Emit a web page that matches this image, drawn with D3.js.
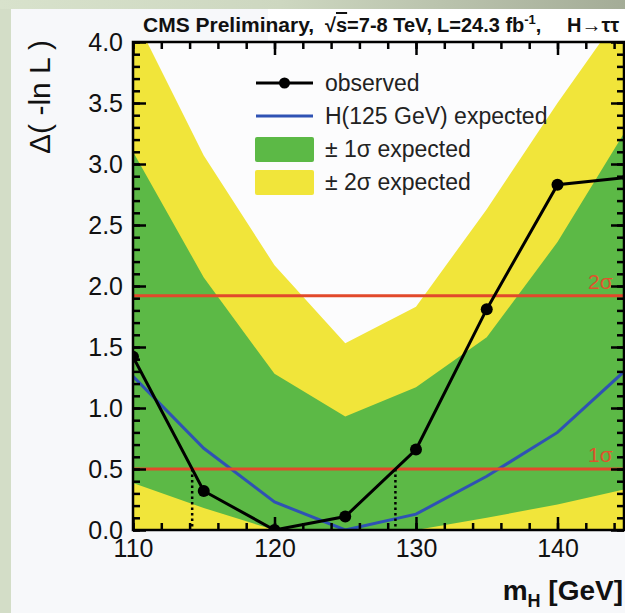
<!DOCTYPE html>
<html><head><meta charset="utf-8">
<script src="https://cdn.jsdelivr.net/npm/d3@7"></script>
<style>
html,body{margin:0;padding:0;background:#f7f8fa;}
svg{display:block;font-family:"Liberation Sans",Arial,Helvetica,sans-serif;}
</style></head><body>
<svg id="chart" width="625" height="613"></svg>
<script>
// Higgs mass scan, H -> tau tau: Δ(-ln L) versus m_H
const masses    = [110, 115, 120, 125, 130, 135, 140, 145];
const observed  = [1.42, 0.32, 0.00, 0.11, 0.66, 1.81, 2.83, 2.89];
const expected  = [1.26, 0.67, 0.23, 0.00, 0.13, 0.44, 0.80, 1.33];
const band1Lo   = [0.385, 0.18, 0.00, 0.00, 0.00, 0.10, 0.21, 0.34];
const band1Hi   = [3.10, 2.07, 1.28, 0.93, 1.17, 1.58, 2.36, 3.31];
const band2Lo   = [0, 0, 0, 0, 0, 0, 0, 0];
const band2Hi   = [4.23, 3.07, 2.17, 1.53, 1.83, 2.63, 3.50, 4.32];
const xMajorTicks = [110, 120, 130, 140];
const yMajorTicks = [0, 0.5, 1.0, 1.5, 2.0, 2.5, 3.0, 3.5, 4.0];
const sigmaLines = [{label: "1σ", value: 0.5}, {label: "2σ", value: 1.92}];
const legendItems = ["observed", "H(125 GeV) expected", "± 1σ expected", "± 2σ expected"];

const W = 625, H = 613;
const frame = {left: 133, right: 624, top: 42, bottom: 530};
const col = {
  green: "#5cb946", yellow: "#f1e53a", blue: "#2f52b4",
  red: "#e2492b", redText: "#e0522c", black: "#000"
};

const svg = d3.select("#chart");
const defs = svg.append("defs");

// page backdrop
const gTop = defs.append("linearGradient").attr("id", "topStrip").attr("x1", 0).attr("x2", 1).attr("y1", 0).attr("y2", 0);
gTop.append("stop").attr("offset", "0").attr("stop-color", "#d8e2cc");
gTop.append("stop").attr("offset", "0.45").attr("stop-color", "#cdd7c0");
gTop.append("stop").attr("offset", "1").attr("stop-color", "#a4ac97");
svg.append("rect").attr("width", W).attr("height", H).attr("fill", "#d3ddc7");
svg.append("rect").attr("width", W).attr("height", 9).attr("fill", "url(#topStrip)");
svg.append("rect").attr("x", 11).attr("y", 9).attr("width", W - 11).attr("height", H - 9).attr("fill", "#f7f8fa");
svg.append("rect").attr("x", 268).attr("y", 9).attr("width", W - 268).attr("height", frame.top + 20 - 9).attr("fill", "#ffffff");
svg.append("rect").attr("x", frame.left).attr("y", frame.top).attr("width", frame.right - frame.left).attr("height", frame.bottom - frame.top).attr("fill", "#fcfcfd");

const x = d3.scaleLinear().domain([110, 144.7]).range([frame.left, frame.right]);
const y = d3.scaleLinear().domain([0, 4]).range([frame.bottom, frame.top]);

defs.append("clipPath").attr("id", "plotClip").append("rect")
  .attr("x", frame.left).attr("y", frame.top)
  .attr("width", frame.right - frame.left).attr("height", frame.bottom - frame.top);

const plot = svg.append("g").attr("clip-path", "url(#plotClip)");

const rows = masses.map((m, i) => ({
  m, obs: observed[i], exp: expected[i],
  lo1: band1Lo[i], hi1: band1Hi[i], lo2: band2Lo[i], hi2: band2Hi[i]
}));

// ±2σ and ±1σ bands
plot.append("path").datum(rows).attr("fill", col.yellow)
  .attr("d", d3.area().x(d => x(d.m)).y0(d => y(d.lo2)).y1(d => y(d.hi2)));
plot.append("path").datum(rows).attr("fill", col.green)
  .attr("d", d3.area().x(d => x(d.m)).y0(d => y(d.lo1)).y1(d => y(d.hi1)));

// expected curve
plot.append("path").datum(rows).attr("fill", "none").attr("stroke", col.blue).attr("stroke-width", 3)
  .attr("d", d3.line().x(d => x(d.m)).y(d => y(d.exp)));

// 1σ / 2σ reference lines
plot.selectAll("line.sig").data(sigmaLines).join("line").attr("class", "sig")
  .attr("x1", frame.left).attr("x2", frame.right)
  .attr("y1", d => y(d.value)).attr("y2", d => y(d.value))
  .attr("stroke", col.red).attr("stroke-width", 3);
svg.selectAll("text.sig").data(sigmaLines).join("text").attr("class", "sig")
  .attr("x", 588).attr("y", d => y(d.value) - 7)
  .attr("font-size", 21).attr("fill", col.redText).text(d => d.label);

// crossing points of the observed curve with Δ(-ln L) = 0.5
const crossings = [];
for (let i = 0; i < rows.length - 1; i++) {
  const a = rows[i], b = rows[i + 1];
  if ((a.obs - 0.5) * (b.obs - 0.5) < 0) {
    crossings.push(a.m + (0.5 - a.obs) / (b.obs - a.obs) * (b.m - a.m));
  }
}
plot.selectAll("line.cross").data(crossings).join("line").attr("class", "cross")
  .attr("x1", d => x(d)).attr("x2", d => x(d))
  .attr("y1", y(0.5)).attr("y2", y(0))
  .attr("stroke", col.black).attr("stroke-width", 2.5).attr("stroke-dasharray", "2.5,3");

// observed curve
plot.append("path").datum(rows).attr("fill", "none").attr("stroke", col.black).attr("stroke-width", 3)
  .attr("d", d3.line().x(d => x(d.m)).y(d => y(d.obs)));
plot.selectAll("circle.obs").data(rows).join("circle").attr("class", "obs")
  .attr("cx", d => x(d.m)).attr("cy", d => y(d.obs)).attr("r", 6).attr("fill", col.black);

// axes: ticks point inwards on all four sides
const xMinor = d3.range(110, 145, 2);
const yMinor = d3.range(0, 4.0001, 0.1);
function styleAxis(g) {
  g.select(".domain").remove();
  g.selectAll(".tick line").attr("stroke", "#000").attr("stroke-width", 2.5);
}
svg.append("g").attr("transform", `translate(0,${frame.bottom})`)
  .call(d3.axisBottom(x).tickValues(xMinor).tickSize(-7).tickFormat("")).call(styleAxis);
svg.append("g").attr("transform", `translate(0,${frame.bottom})`)
  .call(d3.axisBottom(x).tickValues(xMajorTicks).tickSize(-13).tickPadding(9).tickFormat(d3.format("d")))
  .call(styleAxis)
  .call(g => g.selectAll(".tick text").attr("font-size", 25).attr("fill", "#111").attr("font-family", null));
svg.append("g").attr("transform", `translate(0,${frame.top})`)
  .call(d3.axisTop(x).tickValues(xMinor).tickSize(-7).tickFormat("")).call(styleAxis);
svg.append("g").attr("transform", `translate(0,${frame.top})`)
  .call(d3.axisTop(x).tickValues(xMajorTicks).tickSize(-13).tickFormat("")).call(styleAxis);

svg.append("g").attr("transform", `translate(${frame.left},0)`)
  .call(d3.axisLeft(y).tickValues(yMinor).tickSize(-7).tickFormat("")).call(styleAxis);
svg.append("g").attr("transform", `translate(${frame.left},0)`)
  .call(d3.axisLeft(y).tickValues(yMajorTicks).tickSize(-13).tickPadding(10).tickFormat(d3.format(".1f")))
  .call(styleAxis)
  .call(g => g.selectAll(".tick text").attr("font-size", 25).attr("fill", "#111").attr("font-family", null));
svg.append("g").attr("transform", `translate(${frame.right},0)`)
  .call(d3.axisRight(y).tickValues(yMinor).tickSize(-7).tickFormat("")).call(styleAxis);
svg.append("g").attr("transform", `translate(${frame.right},0)`)
  .call(d3.axisRight(y).tickValues(yMajorTicks).tickSize(-13).tickFormat("")).call(styleAxis);

// frame
svg.append("rect").attr("x", frame.left).attr("y", frame.top)
  .attr("width", frame.right - frame.left).attr("height", frame.bottom - frame.top)
  .attr("fill", "none").attr("stroke", "#000").attr("stroke-width", 2.5);

// axis titles
svg.append("text").attr("transform", `translate(50,${frame.top - 2}) rotate(-90)`)
  .attr("text-anchor", "end").attr("font-size", 30).attr("fill", "#111")
  .text("Δ( -ln L )");
const xt = svg.append("text").attr("x", 623).attr("y", 600).attr("text-anchor", "end")
  .attr("font-size", 28).attr("font-weight", "bold").attr("fill", "#111");
xt.append("tspan").text("m");
xt.append("tspan").attr("font-size", 18).attr("dy", 7).text("H");
xt.append("tspan").attr("dy", -7).text(" [GeV]");

// title
const title = svg.append("g").attr("font-weight", "bold").attr("font-size", 20).attr("fill", "#111");
title.append("text").attr("x", 143).attr("y", 32).attr("font-size", 21).text("CMS Preliminary,");
const t2 = title.append("text").attr("x", 325).attr("y", 32);
t2.append("tspan").text("√");
t2.append("tspan").attr("text-decoration", "overline").text("s");
t2.append("tspan").text("=7-8 TeV,");
const t3 = title.append("text").attr("x", 437).attr("y", 32);
t3.append("tspan").text("L=24.3 fb");
t3.append("tspan").attr("font-size", 13).attr("dy", -8).text("-1");
t3.append("tspan").attr("dy", 8).text(",");
title.append("text").attr("x", 567).attr("y", 32).text("H→ττ");

// legend entries
const lg = svg.append("g");
const rowY = [83, 116, 149, 182];
const symX0 = 256, symX1 = 313, textX = 325;
lg.append("line").attr("x1", symX0).attr("x2", symX1).attr("y1", rowY[0]).attr("y2", rowY[0])
  .attr("stroke", col.black).attr("stroke-width", 3);
lg.append("circle").attr("cx", (symX0 + symX1) / 2).attr("cy", rowY[0]).attr("r", 5.5).attr("fill", col.black);
lg.append("line").attr("x1", symX0).attr("x2", symX1).attr("y1", rowY[1]).attr("y2", rowY[1])
  .attr("stroke", col.blue).attr("stroke-width", 3);
lg.append("rect").attr("x", symX0 - 1).attr("y", rowY[2] - 12).attr("width", symX1 - symX0 + 2).attr("height", 25)
  .attr("rx", 2).attr("fill", col.green);
lg.append("rect").attr("x", symX0 - 1).attr("y", rowY[3] - 12).attr("width", symX1 - symX0 + 2).attr("height", 25)
  .attr("rx", 2).attr("fill", col.yellow);
lg.selectAll("text").data(legendItems).join("text")
  .attr("x", textX).attr("y", (d, i) => rowY[i] + 8)
  .attr("font-size", 23).attr("fill", "#222").text(d => d);
</script>
</body></html>
